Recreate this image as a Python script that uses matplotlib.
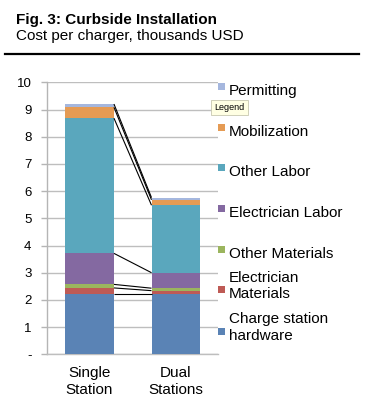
import matplotlib
matplotlib.use("Agg")
import matplotlib.pyplot as plt
import numpy as np
from matplotlib.patches import Rectangle

plt.rcParams['font.family'] = ['Liberation Sans', 'DejaVu Sans']

categories = ["Single\nStation", "Dual\nStations"]
series_names = ["Charge station hardware", "Electrician Materials", "Other Materials",
                "Electrician Labor", "Other Labor", "Mobilization", "Permitting"]
legend_labels = ["Charge station\nhardware", "Electrician\nMaterials", "Other Materials",
                 "Electrician Labor", "Other Labor", "Mobilization", "Permitting"]
single_vals = [2.23, 0.21, 0.13, 1.14, 4.97, 0.40, 0.12]
dual_vals = [2.23, 0.11, 0.09, 0.57, 2.48, 0.20, 0.08]
colors = ["#5A83B5", "#BE5A55", "#9BB55E", "#8469A1", "#5AA7BD", "#E59B54", "#A5B7DE"]
yticks = [0, 1, 2, 3, 4, 5, 6, 7, 8, 9, 10]
ytick_labels = ["-", "1", "2", "3", "4", "5", "6", "7", "8", "9", "10"]

W, H = 383, 407
fig = plt.figure(figsize=(W / 100, H / 100), dpi=100)

def fx(px):
    return px / W

def fy(py):
    return 1 - py / H

ax_left, ax_right, ax_top, ax_bot = 46.7, 218, 82.3, 354.3
ax = fig.add_axes([fx(ax_left), fy(ax_bot), fx(ax_right - ax_left), (ax_bot - ax_top) / H])

x = np.arange(len(categories))
width = 0.566
vals = np.array([single_vals, dual_vals])  # shape (2, nseries)
bottoms = np.zeros(len(categories))
for i, name in enumerate(series_names):
    ax.bar(x, vals[:, i], width, bottom=bottoms, color=colors[i], zorder=3, linewidth=0)
    bottoms = bottoms + vals[:, i]

# series lines
cum = np.cumsum(vals, axis=1)
for i in range(len(series_names)):
    ax.plot([x[0] + width / 2, x[1] - width / 2], [cum[0, i], cum[1, i]],
            color="black", lw=0.8, zorder=4, solid_capstyle="butt")

ax.set_xlim(-0.495, 1.486)
ax.set_ylim(0, 10)
ax.set_yticks(yticks)
ax.set_yticklabels(ytick_labels, fontsize=9.5)
ax.set_xticks(x)
ax.set_xticklabels(categories, fontsize=11, linespacing=1.25)
ax.tick_params(axis="x", length=0, pad=8.5)
ax.tick_params(axis="y", length=4, width=1, color="#B5B5B5", pad=7)
ax.yaxis.grid(True, color="#BEBEBE", lw=1.0, zorder=0)
ax.set_axisbelow(True)
for s in ["top", "right"]:
    ax.spines[s].set_visible(False)
ax.spines["left"].set_color("#B5B5B5")
ax.spines["bottom"].set_color("#BEBEBE")
ax.spines["left"].set_linewidth(1.0)
ax.spines["bottom"].set_linewidth(1.0)

# title
fig.text(fx(15.5), fy(24), "Fig. 3: Curbside Installation", fontsize=11, fontweight="bold",
         va="baseline", ha="left")
fig.text(fx(15.5), fy(40), "Cost per charger, thousands USD", fontsize=11,
         va="baseline", ha="left")
fig.add_artist(plt.Line2D([fx(5), fx(359)], [fy(54), fy(54)], color="black", lw=1.6))

# legend (top to bottom: reversed series order)
legend_baselines = [95, 135.5, 176, 216.7, 257.5, 298.3, 340]
for j, idx in enumerate(range(len(series_names) - 1, -1, -1)):
    by = legend_baselines[j]
    fig.add_artist(Rectangle((fx(218), fy(by - 5)), 7 / W, 7 / H,
                             transform=fig.transFigure, color=colors[idx], lw=0))
    fig.text(fx(229), fy(by), legend_labels[idx], fontsize=11, va="baseline", ha="left",
             linespacing=1.25)

# tooltip artifact
fig.text(fx(214.5), fy(110), "Legend", fontsize=6.5, va="baseline", ha="left",
         bbox=dict(boxstyle="square,pad=0.35", fc="#FFFFE3", ec="#C8C8B0", lw=0.6))

fig.savefig("out.png", dpi=100)
